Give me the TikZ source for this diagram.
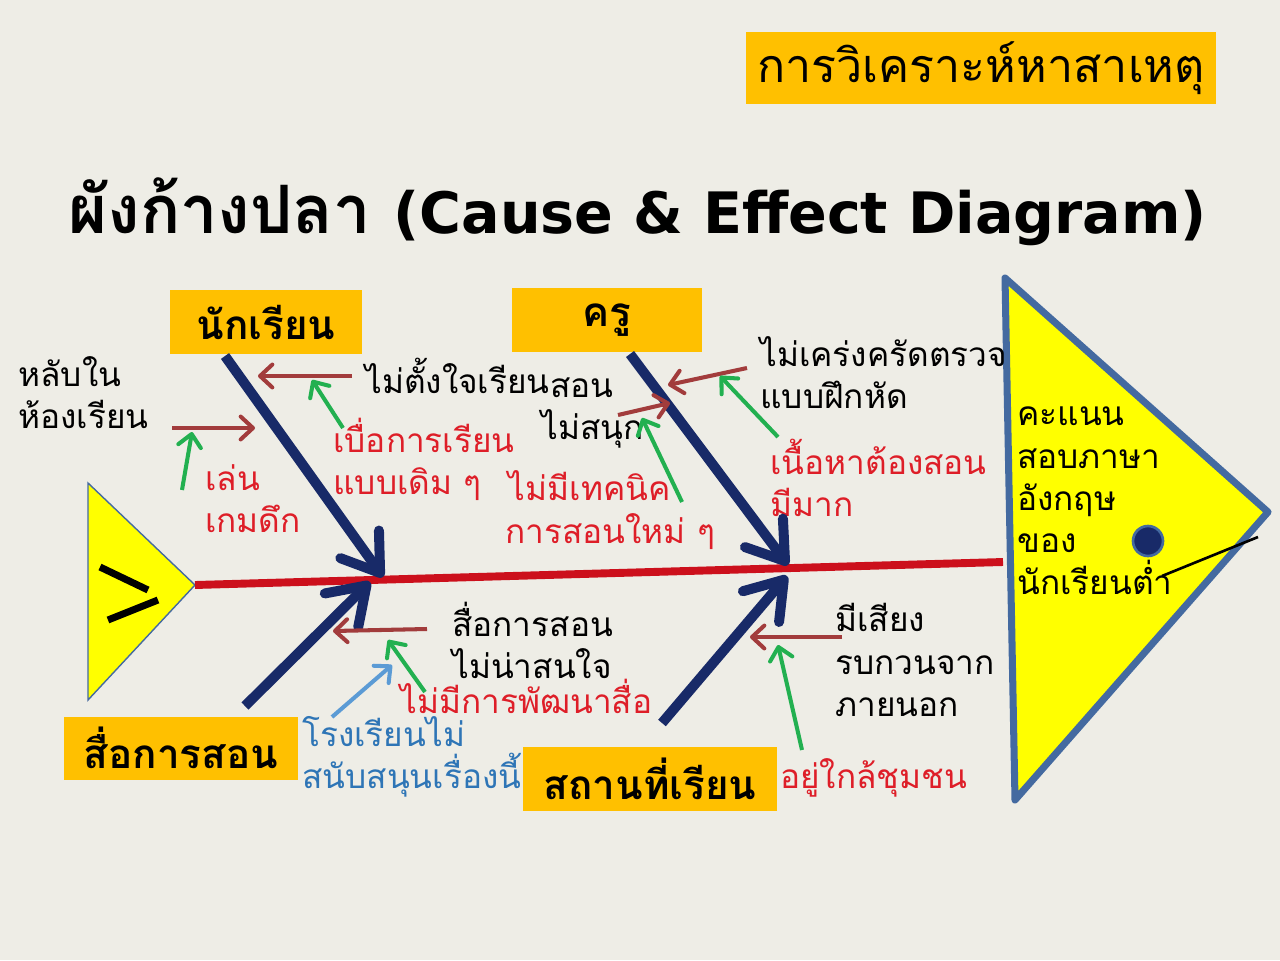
\documentclass[tikz,border=0pt]{standalone}
\usepackage{fontspec}
\setmainfont[Script=Thai]{Loma}
\newfontfamily\latinfont{DejaVu Sans}
\usepackage{tikz}
\usetikzlibrary{positioning,arrows.meta}

\definecolor{paper}{RGB}{238,237,230}
\definecolor{boxorange}{RGB}{255,192,0}
\definecolor{fishyellow}{RGB}{255,255,0}
\definecolor{finblue}{RGB}{68,106,160}
\definecolor{bonenavy}{RGB}{24,42,104}
\definecolor{spinered}{RGB}{204,16,28}
\definecolor{twigred}{RGB}{162,60,60}
\definecolor{rootgreen}{RGB}{34,176,80}
\definecolor{causered}{RGB}{222,30,40}
\definecolor{causeblue}{RGB}{46,117,182}
\definecolor{skyblue}{RGB}{91,155,213}

\begin{document}
\begin{tikzpicture}[x=0.02cm,y=-0.02cm,
  cat/.style={fill=boxorange,inner sep=0pt,font=\bfseries\fontsize{23}{28}\selectfont},
  cause/.style={align=left,inner sep=0pt,anchor=west,font=\fontsize{19}{24}\selectfont},
  bone/.style={draw=bonenavy,line width=5.7pt,-{Straight Barb[length=20pt,width=27pt,round]}},
  twig/.style={draw=twigred,line width=2.3pt,-{Straight Barb[length=7pt,width=13pt,round]}},
  root/.style={draw=rootgreen,line width=2.3pt,-{Straight Barb[length=7pt,width=13pt,round]}}]
  \fill[paper] (0,0) rectangle (1280,960);
  \useasboundingbox (0,0) rectangle (1280,960);

  % headings
  \node[fill=boxorange,inner sep=0pt,minimum width=9.4cm,minimum height=1.44cm,font=\fontsize{26.5}{32}\selectfont]
    (heading) at (981,68) {การวิเคราะห์หาสาเหตุ};
  \node[anchor=west,inner sep=0pt,font=\bfseries\fontsize{38}{44}\selectfont]
    (title) at (68,212) {ผังก้างปลา {\latinfont\fontsize{32.5}{40}\selectfont (Cause \& Effect Diagram)}};

  % fish
  \filldraw[fill=fishyellow,draw=finblue,line width=0.8pt] (88,483) -- (195,585) -- (88,700) -- cycle;
  \draw[line width=4pt] (100,567) -- (148,590) (108,620) -- (158,600);
  \filldraw[fill=fishyellow,draw=finblue,line width=4pt,line join=round]
    (1005,278) -- (1268,512) -- (1015,800) -- cycle;
  \coordinate (tail) at (195,585);
  \coordinate (head) at (1003,562);
  \draw[spinered,line width=4.5pt] (tail) -- (head);
  \filldraw[fill=bonenavy,draw=finblue,line width=1.5pt] (1148,541) circle (0.3cm);
  \draw[line width=1.5pt] (1162,576) -- (1258,537);
  \node[cause] (effect) at (1017,501) {คะแนน\\สอบภาษา\\อังกฤษ\\ของ\\นักเรียนต่ำ};

  % categories
  \node[cat,minimum width=3.84cm,minimum height=1.28cm] (student) at (266,322) {นักเรียน};
  \node[cat,minimum width=3.82cm,minimum height=1.28cm] (teacher) at (607,320) {ครู};
  \node[cat,minimum width=4.68cm,minimum height=1.26cm] (media) at (181,748) {สื่อการสอน};
  \node[cat,minimum width=5.1cm,minimum height=1.28cm] (place) at (650,779) {สถานที่เรียน};

  % causes
  \node[cause] (sleep) at (18,393) {หลับใน\\ห้องเรียน};
  \node[cause] (noattn) at (365,376) {ไม่ตั้งใจเรียน};
  \node[cause,causered] (bored) at (333,459) {เบื่อการเรียน\\แบบเดิม ๆ};
  \node[cause,causered] (game) at (205,499) {เล่น\\เกมดึก};
  \node[cause] (dull) at (541,413) {\hspace{5pt}สอน\\ไม่สนุก};
  \node[cause] (lax) at (760,373) {ไม่เคร่งครัดตรวจ\\แบบฝึกหัด};
  \node[cause,causered] (notech) at (505,510) {\hspace{2pt}ไม่มีเทคนิค\\การสอนใหม่ ๆ};
  \node[cause,causered] (content) at (770,478) {เนื้อหาต้องสอน\\มีมาก};
  \node[cause] (dullmedia) at (452,640) {สื่อการสอน\\ไม่น่าสนใจ};
  \node[cause,causered] (nodev) at (400,696) {ไม่มีการพัฒนาสื่อ};
  \node[cause,causeblue] (school) at (302,757) {โรงเรียนไม่\\สนับสนุนเรื่องนี้};
  \node[cause] (noise) at (835,660) {มีเสียง\\รบกวนจาก\\ภายนอก};
  \node[cause,causered] (near) at (780,778) {อยู่ใกล้ชุมชน};

  % bones
  \coordinate (studentfoot) at (225,356);
  \coordinate (teacherfoot) at (630,354);
  \coordinate (mediafoot) at (245,706);
  \coordinate (placefoot) at (662,723);
  \coordinate (spinea) at (383,577);
  \coordinate (spineb) at (370,582);
  \coordinate (spinec) at (788,565);
  \coordinate (spined) at (787,576);
  \draw[bone] (studentfoot) -- (spinea);
  \draw[bone] (mediafoot) -- (spineb);
  \draw[bone] (teacherfoot) -- (spinec);
  \draw[bone] (placefoot) -- (spined);

  % twigs
  \coordinate (t1a) at (352,376); \coordinate (t1b) at (258,376);
  \coordinate (t2a) at (172,428); \coordinate (t2b) at (255,428);
  \coordinate (t3a) at (747,368); \coordinate (t3b) at (668,385);
  \coordinate (t4a) at (618,415); \coordinate (t4b) at (670,403);
  \coordinate (t5a) at (427,629); \coordinate (t5b) at (333,631);
  \coordinate (t6a) at (842,637); \coordinate (t6b) at (750,637);
  \draw[twig] (t1a) -- (t1b);
  \draw[twig] (t2a) -- (t2b);
  \draw[twig] (t3a) -- (t3b);
  \draw[twig] (t4a) -- (t4b);
  \draw[twig] (t5a) -- (t5b);
  \draw[twig] (t6a) -- (t6b);

  % roots
  \coordinate (r1) at (182,490); \coordinate (r1e) at (192,432);
  \coordinate (r2) at (343,428); \coordinate (r2e) at (312,380);
  \coordinate (r3) at (682,502); \coordinate (r3e) at (642,418);
  \coordinate (r4) at (778,437); \coordinate (r4e) at (720,376);
  \coordinate (r5) at (425,692); \coordinate (r5e) at (388,640);
  \coordinate (r6) at (802,750); \coordinate (r6e) at (778,645);
  \coordinate (r7) at (332,717); \coordinate (r7e) at (392,665);
  \draw[root] (r1) -- (r1e);
  \draw[root] (r2) -- (r2e);
  \draw[root] (r3) -- (r3e);
  \draw[root] (r4) -- (r4e);
  \draw[root] (r5) -- (r5e);
  \draw[root] (r6) -- (r6e);
  \draw[root,skyblue] (r7) -- (r7e);
\end{tikzpicture}
\end{document}
